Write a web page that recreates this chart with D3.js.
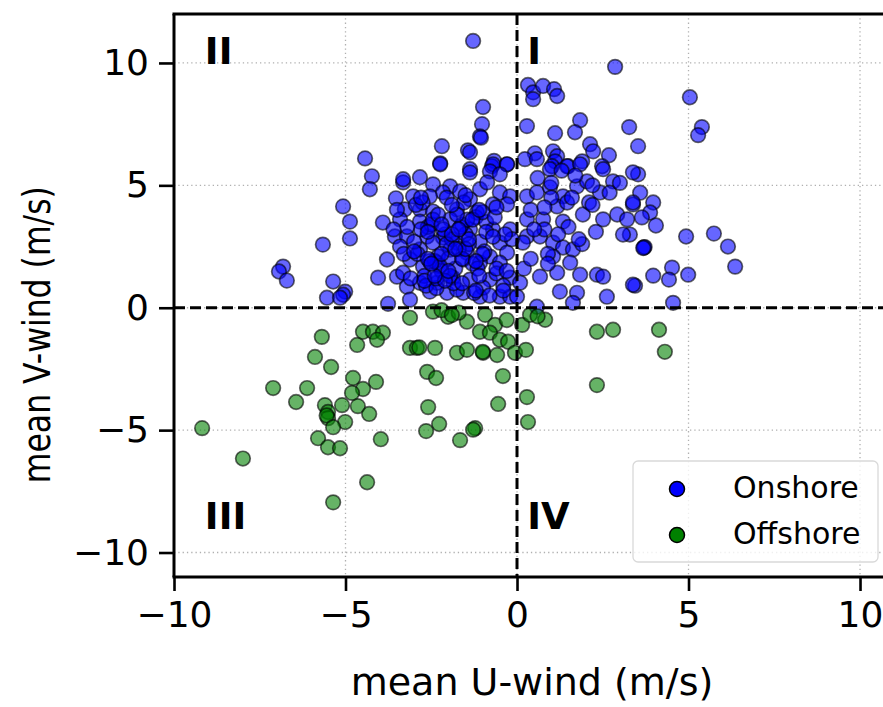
<!DOCTYPE html>
<html>
<head>
<meta charset="utf-8">
<script src="https://cdn.jsdelivr.net/npm/d3@7"></script>
<style>
  body { margin: 0; background: #fff; }
  text { font-family: "DejaVu Sans", sans-serif; }
</style>
</head>
<body>
<div id="chart"></div>
<script>
// onshore points (mean U, mean V)
const onshoreU = [
  -1.28, 0.32, 0.47, 0.76, 1.08, 1.17, 0.47, 2.86, -0.99, -1.02, -1.08, -1.05, -2.19, -1.43, -1.37,
  -2.24, -0.67, -0.73, -0.29, -1.37, 0.29, 1.84, 1.69, 1.11, 3.27, 3.53, 0.52, 1.05, 1.17, 1.11,
  2.13, 2.22, 2.68, 1.9, 2.48, 1.02, 1.49, 5.04, 5.39, 5.28, 3.53, 3.59, 3.38, 3.97, 3.88,
  3.64, 4.05, 3.29, 4.93, 5.74, 6.15, 6.36, 3.7, 3.72, 3.68, 4.52, 4.43, 3.97, 4.99, 3.44,
  4.55, -4.43, -4.23, -4.29, -3.32, -3.53, -5.07, -4.87, -4.87, -5.66, -6.82, -6.94, -6.71, -5.36, -5.01,
  -5.07, -5.54, -5.16, -3.76, -4.05, -3.91, -3.79, -3.5, -3.56,
  -2.24, -1.37, -0.7, -0.29, -0.79, -0.5, -2.83, -3.32, -2.45, -1.95, -1.66, -2.16, -1.08, -0.87, -0.5,
  -0.2, -3.03, -2.54, -1.37, -0.7, -0.29, -3.27, -2.83, -2.45, -1.75, -1.17, -3.41, -2.83, -1.95, -1.37,
  -0.7, -0.2, -3.21, -2.62, -2.16, -2.45, -1.75, -1.08, -0.5, -3.41, -2.83, -1.95, -1.46, -0.79, -0.29,
  -3.12, -2.33, -1.57, -1.08, -0.5, -2.74, -3.32, -1.87, -1.37, -0.79, -2.83, -2.33, -0.2, -3.21, -2.54,
  -2.04, -1.57, -1.08, -0.5, -0.2, -3.12, -1.75, -0.99,
  0.23, 0.58, 0.96, 1.46, 1.84, 2.51, 2.8, 3.38, 0.29, 0.58, 0.96, 1.34, 1.75, 2.04, 2.42,
  1.17, 1.46, 1.92, 0.76, 1.34, 0.29, 2.51, 2.92, 3.21, 3.38, 3.09, 0.29, 0.67, 0.17, 1.05,
  1.34, 1.63, 1.05, 1.55, 0.67, 1.17, 1.84, 2.33, 2.51, 1.25, 1.75, 2.62, 3.38, 1.63, 0.58,
  0.09, 0.0,
  -2.6, -2.1, -1.6, -1.2, -2.9, -2.3, -1.9, -1.5, -0.9, -2.7, -2.2, -1.8, -1.3, -0.6, -3.0,
  -2.5, -2.0, -1.4, -0.95, -2.65, -2.35, -1.85, -1.25, -0.4, -3.1, -2.15, -1.55, -2.75, -1.0, -0.15,
  -2.4, -1.65, -3.3, -2.05, -1.15, 0.8, 1.5, 2.1, 0.4, 1.0, 2.7, 3.0, 0.9, 1.9, 0.2,
  -2.55, -2.25, -1.95, -1.7, -2.45, -2.05, -1.6, -2.8, -2.35, -1.9, -1.45, -2.6, -2.1, -1.75, -2.95,
  -2.3, -1.5, -1.1, -0.65, -0.35,
  -2.7, -2.4, -2.0, -1.6, -1.2, -0.8, -0.4, -2.2, -1.8, -1.4, -1.0, -0.6, -2.6, -2.2, -1.7,
  -1.3, -0.9, -3.0, -2.5, -1.2, -0.7, -0.3, -1.9, -1.5, -2.8, -1.1, -0.6, -3.2, -3.5, -3.6,
  0.6, 1.0, 1.3, 1.7, 2.2, 0.8, 1.6, 2.2, 0.5, 1.2, 1.8, 2.3, 0.9, 0.4
];
const onshoreV = [
  10.9, 9.1, 8.8, 9.06, 8.93, 8.65, 8.52, 9.84, 8.2, 7.5, 7.0, 6.95, 6.6, 6.43, 6.35,
  5.9, 6.0, 5.78, 5.86, 5.66, 7.42, 7.66, 7.17, 7.13, 7.38, 6.6, 6.31, 6.39, 6.19, 5.98,
  6.68, 6.39, 6.23, 5.98, 5.78, 5.78, 5.78, 8.6, 7.38, 7.05, 5.45, 4.7, 4.22, 4.3, 3.89,
  3.69, 3.36, 2.99, 2.91, 3.03, 2.5, 1.68, 2.46, 2.48, 2.44, 1.64, 1.15, 1.31, 1.35, 0.9,
  0.2, 6.1, 5.37, 4.84, 5.12, 4.47, 4.14, 3.52, 2.83, 2.58, 1.68, 1.48, 1.11, 1.07, 0.66,
  0.53, 0.41, 0.41, 0.16, 1.23, 3.48, 1.97, 1.27, 2.91,
  5.86, 5.53, 5.86, 5.86, 5.57, 5.45, 5.33, 5.25, 5.04, 4.96, 4.75, 4.71, 4.84, 5.12, 4.71,
  4.55, 4.55, 4.55, 4.43, 4.22, 4.22, 4.02, 4.02, 3.93, 4.02, 3.89, 3.61, 3.52, 3.61, 3.2,
  3.2, 3.2, 2.91, 2.91, 2.87, 2.66, 2.66, 2.7, 2.66, 2.5, 2.38, 2.38, 2.25, 2.09, 2.25,
  1.97, 1.84, 1.97, 1.84, 1.84, 1.68, 1.43, 1.23, 1.15, 1.15, 1.02, 1.02, 1.23, 0.86, 0.66,
  0.61, 0.61, 0.45, 0.45, 0.45, 0.33, 0.74, 0.82,
  6.07, 6.07, 5.66, 5.78, 5.86, 5.66, 5.16, 5.53, 4.55, 4.71, 4.92, 4.55, 4.96, 5.16, 4.71,
  4.14, 4.3, 3.81, 3.61, 3.52, 3.61, 3.61, 3.81, 3.61, 4.3, 2.99, 2.91, 2.91, 2.66, 2.66,
  2.46, 2.38, 2.09, 1.84, 1.27, 1.43, 1.35, 1.35, 1.27, 0.66, 0.61, 0.45, 0.94, 0.2, 0.04,
  1.02, 0.45,
  3.3, 3.0, 3.4, 3.7, 2.2, 2.1, 2.8, 3.0, 3.5, 1.3, 1.5, 1.6, 1.8, 1.4, 2.7,
  3.4, 2.0, 2.6, 2.3, 0.9, 0.8, 1.0, 0.6, 0.9, 1.2, 3.2, 4.3, 4.3, 3.9, 2.8,
  1.9, 3.3, 2.2, 4.5, 1.6, 3.2, 3.3, 4.3, 4.0, 4.5, 4.7, 5.1, 2.2, 2.6, 1.6,
  1.9, 1.7, 1.3, 2.4, 3.6, 2.6, 2.0, 3.2, 1.2, 3.0, 3.6, 2.0, 1.1, 3.8, 4.2,
  3.8, 2.4, 1.3, 3.7, 3.0,
  1.1, 1.3, 1.5, 1.0, 0.7, 0.5, 0.7, 2.2, 2.4, 2.8, 2.2, 1.6, 3.1, 3.4, 3.2,
  3.6, 3.1, 2.3, 1.8, 1.9, 2.9, 1.5, 4.2, 4.6, 4.5, 4.0, 4.1, 3.3, 4.0, 3.2,
  5.3, 5.1, 5.6, 5.4, 5.0, 4.1, 4.5, 4.2, 3.2, 3.0, 2.8, 3.1, 1.8, 2.0
];

// offshore points (mean U, mean V)
const offshoreU = [
  -5.69, -4.66, -4.49, -4.2, -3.91, -4.08, -5.89, -5.42, -4.78, -4.11, -4.49, -4.81, -7.11, -6.12, -6.44,
  -5.6, -5.1, -4.64, -5.51, -5.51, -5.55, -4.31, -5.01, -5.36, -9.18, -5.8, -3.97, -5.51, -5.16, -7.99,
  -4.37, -5.36, -3.12, -3.12, -2.45, -2.01, -1.46, -0.93, -0.64, -1.08, -0.79, -0.5, -0.26, 0.15, 0.38,
  0.82, -2.92, -2.85, -2.39, -1.75, -1.46, -0.99, -1.0, -0.58, -0.06, 0.26, -2.62, -2.36, -0.41, -2.59,
  -0.55, 0.29, 0.32, -2.65, -2.27, -1.66, -1.22, -1.28, 2.33, 2.8, 2.33, 4.14, 4.31, -2.2, -1.7,
  -0.3, -1.9, 0.6
];
const offshoreV = [
  -1.19, -1.52, -0.98, -0.98, -1.02, -1.31, -2.01, -2.42, -2.87, -3.03, -3.32, -3.48, -3.28, -3.28, -3.85,
  -3.98, -3.98, -4.02, -4.26, -4.51, -4.4, -4.34, -4.67, -4.88, -4.92, -5.33, -5.37, -5.7, -5.74, -6.16,
  -7.13, -7.95, -0.41, -1.64, -0.16, -0.37, -0.57, -0.29, -0.7, -0.98, -1.02, -1.31, -1.39, -0.7, -0.29,
  -0.49, -1.64, -1.62, -1.64, -1.84, -1.72, -1.84, -1.8, -1.93, -1.84, -1.72, -2.62, -2.87, -2.79, -4.06,
  -3.93, -3.65, -4.67, -5.04, -4.75, -5.41, -4.92, -4.98, -0.98, -0.9, -3.16, -0.9, -1.8, -0.1, -0.2,
  -0.5, -0.3, -0.35
];

const xTicks = [-10, -5, 0, 5, 10];
const yTicks = [-10, -5, 0, 5, 10];
const quadrants = [
  { label: "II", u: -9.1, v: 9.95 },
  { label: "I", u: 0.3, v: 9.95 },
  { label: "III", u: -9.1, v: -9.05 },
  { label: "IV", u: 0.3, v: -9.05 }
];
const series = [
  { name: "Onshore", color: "#0000ff", u: onshoreU, v: onshoreV },
  { name: "Offshore", color: "#008000", u: offshoreU, v: offshoreV }
];

const W = 883, H = 707;
const plotLeft = 174, plotTop = 14, plotBottom = 577;

const x = d3.scaleLinear().domain([-10, 10.67]).range([plotLeft, W]);
const y = d3.scaleLinear().domain([-11, 12]).range([plotBottom, plotTop]);

const svg = d3.select("#chart").append("svg")
  .attr("width", W)
  .attr("height", H);

// dotted grid
svg.append("g").selectAll("line")
  .data(xTicks)
  .enter().append("line")
  .attr("x1", d => x(d)).attr("x2", d => x(d))
  .attr("y1", plotTop).attr("y2", plotBottom)
  .attr("stroke", "#b0b0b0").attr("stroke-width", 1.3)
  .attr("stroke-dasharray", "1.3,3");
svg.append("g").selectAll("line")
  .data(yTicks)
  .enter().append("line")
  .attr("y1", d => y(d)).attr("y2", d => y(d))
  .attr("x1", plotLeft).attr("x2", W)
  .attr("stroke", "#b0b0b0").attr("stroke-width", 1.3)
  .attr("stroke-dasharray", "1.3,3");

// scatter points
series.forEach(s => {
  svg.append("g").selectAll("circle")
    .data(s.u.map((u, i) => [u, s.v[i]]))
    .enter().append("circle")
    .attr("cx", d => x(d[0]))
    .attr("cy", d => y(d[1]))
    .attr("r", 7.3)
    .attr("fill", s.color).attr("fill-opacity", 0.6)
    .attr("stroke", "#000").attr("stroke-opacity", 0.6)
    .attr("stroke-width", 1.7);
});

// zero lines
svg.append("line")
  .attr("x1", x(0)).attr("x2", x(0)).attr("y1", plotTop).attr("y2", plotBottom)
  .attr("stroke", "#000").attr("stroke-width", 3).attr("stroke-dasharray", "11,5");
svg.append("line")
  .attr("x1", plotLeft).attr("x2", W).attr("y1", y(0)).attr("y2", y(0))
  .attr("stroke", "#000").attr("stroke-width", 3).attr("stroke-dasharray", "11,5");

// quadrant labels
svg.append("g").selectAll("text")
  .data(quadrants)
  .enter().append("text")
  .attr("x", d => x(d.u)).attr("y", d => y(d.v))
  .attr("font-size", 37).attr("font-weight", "bold")
  .text(d => d.label);

// axes
const fmt = d => String(d).replace("-", "\u2212");
const xAxis = svg.append("g")
  .attr("transform", `translate(0,${plotBottom})`)
  .call(d3.axisBottom(x).tickValues(xTicks).tickSize(14).tickPadding(10).tickFormat(fmt));
const yAxis = svg.append("g")
  .attr("transform", `translate(${plotLeft},0)`)
  .call(d3.axisLeft(y).tickValues(yTicks).tickSize(15).tickPadding(10).tickFormat(fmt));
[xAxis, yAxis].forEach(g => {
  g.select(".domain").remove();
  g.selectAll(".tick line").attr("stroke", "#000").attr("stroke-width", 2.6);
  g.selectAll(".tick text").attr("fill", "#000").attr("font-size", 36)
    .attr("font-family", "DejaVu Sans, sans-serif");
});

// spines
svg.append("line").attr("x1", plotLeft).attr("x2", plotLeft).attr("y1", plotTop).attr("y2", plotBottom)
  .attr("stroke", "#000").attr("stroke-width", 3);
svg.append("line").attr("x1", plotLeft - 1.5).attr("x2", W).attr("y1", plotTop).attr("y2", plotTop)
  .attr("stroke", "#000").attr("stroke-width", 3);
svg.append("line").attr("x1", plotLeft - 1.5).attr("x2", W).attr("y1", plotBottom).attr("y2", plotBottom)
  .attr("stroke", "#000").attr("stroke-width", 3);

// axis labels
svg.append("text")
  .attr("x", 532).attr("y", 695)
  .attr("text-anchor", "middle").attr("font-size", 38)
  .text("mean U-wind (m/s)");
svg.append("text")
  .attr("transform", `translate(50,${y(-1.1)}) scale(1.2,1) rotate(-90)`)
  .attr("text-anchor", "middle").attr("font-size", 31.5)
  .text("mean V-wind (m/s)");

// legend
const legend = svg.append("g");
legend.append("rect")
  .attr("x", 633).attr("y", 461).attr("width", 245).attr("height", 101)
  .attr("rx", 5).attr("fill", "#fff").attr("fill-opacity", 0.8)
  .attr("stroke", "#d9d9d9").attr("stroke-width", 1.3);
series.forEach((s, i) => {
  legend.append("circle")
    .attr("cx", 677).attr("cy", 489 + i * 46).attr("r", 7.5)
    .attr("fill", s.color).attr("stroke", "#000").attr("stroke-width", 1.5);
  legend.append("text")
    .attr("x", 733).attr("y", 498 + i * 46)
    .attr("font-size", 30)
    .text(s.name);
});
</script>
</body>
</html>
